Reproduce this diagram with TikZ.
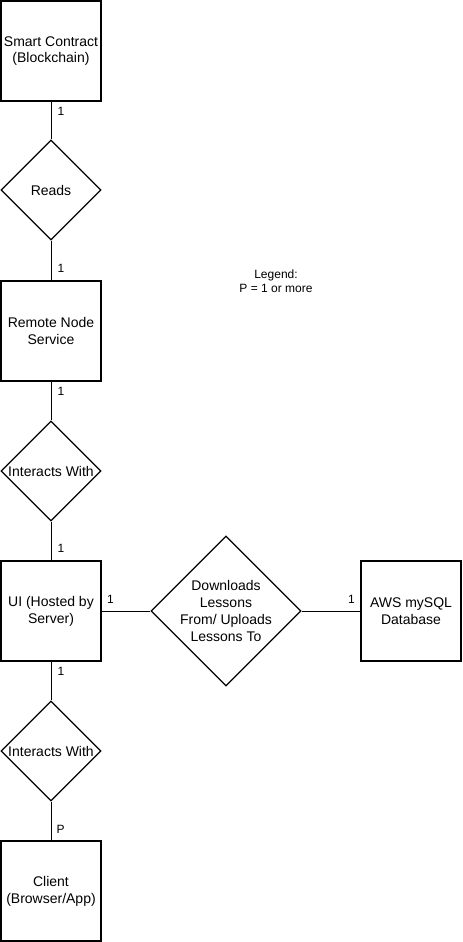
\documentclass[tikz,border=0pt]{standalone}
\usepackage{fontspec}
\setmainfont{Liberation Sans}
\usetikzlibrary{positioning,shapes.geometric}

\begin{document}
\begin{tikzpicture}[x=0.75pt,y=-0.75pt,
  font=\fontsize{10.5}{12.6}\selectfont,
  entity/.style={draw, line width=1pt, minimum size=75pt, inner sep=0pt, align=center},
  rel/.style={draw, diamond, line width=1pt, minimum size=75pt, inner sep=0pt, align=center},
  card/.style={inner sep=0pt, font=\fontsize{9}{10}\selectfont},
  link/.style={line width=0.75pt}]
\useasboundingbox (0,0) rectangle (462,942);
\node[entity] (sc) at (51,51) {Smart Contract\\(Blockchain)};
\node[rel] (rd) at (51,190) {Reads};
\node[entity] (rns) at (51,331) {Remote Node\\Service};
\node[rel] (iw1) at (51,471) {Interacts With};
\node[entity] (ui) at (51,611) {UI (Hosted by\\Server)};
\node[rel, minimum size=112.5pt, inner sep=-2pt] (dl) at (226,611) {Downloads\\Lessons\\From/ Uploads\\Lessons To};
\node[entity] (aws) at (411,611) {AWS mySQL\\Database};
\node[rel] (iw2) at (51,751) {Interacts With};
\node[entity] (cl) at (51,891) {Client\\(Browser/App)};
\node[align=center, font=\fontsize{9}{10.8}\selectfont] (legend) at (276,281) {Legend:\\P = 1 or more};
% cardinalities
\draw[link] (sc) -- node[card, pos=0, below right=3.5pt and 4.5pt] {1} (rd);
\draw[link] (rd) -- node[card, pos=1, above right=5.5pt and 4.5pt] {1} (rns);
\draw[link] (rns) -- node[card, pos=0, below right=3.5pt and 4.5pt] {1} (iw1);
\draw[link] (iw1) -- node[card, pos=1, above right=5.5pt and 4.5pt] {1} (ui);
\draw[link] (ui) -- node[card, pos=0, above right=5pt and 3.75pt] {1} (dl);
\draw[link] (dl) -- node[card, pos=1, above left=5pt and 3.75pt] {1} (aws);
\draw[link] (ui) -- node[card, pos=0, below right=3.5pt and 4.5pt] {1} (iw2);
\draw[link] (iw2) -- node[card, pos=1, above right=4.5pt and 3.75pt] {P} (cl);
\end{tikzpicture}
\end{document}
